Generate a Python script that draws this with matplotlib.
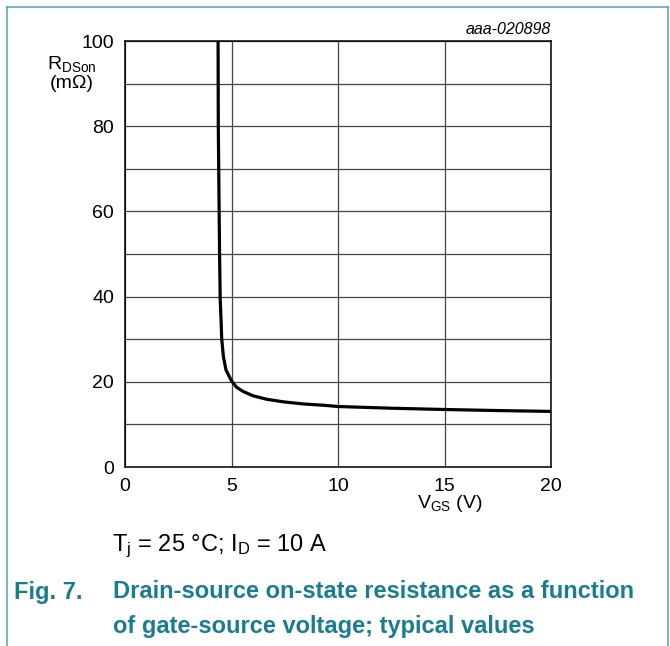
import matplotlib
matplotlib.use("Agg")
import matplotlib.pyplot as plt
from matplotlib.lines import Line2D

plt.rcParams['font.family'] = ['Liberation Sans', 'DejaVu Sans']
plt.rcParams['mathtext.fontset'] = 'custom'
plt.rcParams['mathtext.rm'] = 'Liberation Sans'
plt.rcParams['mathtext.it'] = 'Liberation Sans:italic'

# ---- data ----
vgs = [4.37, 4.38, 4.40, 4.42, 4.44, 4.47, 4.51, 4.54, 4.62, 4.74, 4.99, 5.24,
       5.56, 6.02, 6.65, 7.43, 8.37, 9.31, 10.0, 12.5, 15.0, 17.5, 20.0]
rds_on = [100, 80, 70, 60, 50, 39.2, 34.5, 30.1, 25.9, 22.8, 20.3, 18.7,
          17.7, 16.7, 15.9, 15.3, 14.8, 14.5, 14.2, 13.8, 13.5, 13.25, 13.05]
x_ticks = [0, 5, 10, 15, 20]
y_ticks = [0, 20, 40, 60, 80, 100]
y_grid = [10, 30, 50, 70, 90]

TEAL = "#1a7d8f"
FRAME = "#5fa9b9"

fig = plt.figure(figsize=(6.7, 6.46), dpi=100)
ax = fig.add_axes([125 / 670, 1 - 467 / 646, 426 / 670, 426 / 646])

ax.plot(vgs, rds_on, color="black", lw=2.3, solid_joinstyle="round", zorder=3)

ax.set_xlim(0, 20)
ax.set_ylim(0, 100)
ax.set_xticks(x_ticks)
ax.set_yticks(y_ticks)
ax.set_yticks(y_grid, minor=True)
ax.tick_params(which="both", length=0, labelsize=14)
ax.tick_params(axis="x", pad=8)
ax.tick_params(axis="y", pad=8)
ax.grid(which="both", color="#444444", lw=0.9)
for s in ax.spines.values():
    s.set_linewidth(1.1)

# axis labels as in the datasheet
fig.text(72 / 670, 1 - 64 / 646, r"R$_{\mathregular{DSon}}$", ha="center", va="center", fontsize=14)
fig.text(72 / 670, 1 - 84 / 646, "(m\u03a9)", ha="center", va="center", fontsize=14)
fig.text(450 / 670, 1 - 504 / 646, r"V$_{\mathregular{GS}}$ (V)", ha="center", va="center", fontsize=14)
fig.text(551 / 670, 1 - 30 / 646, "aaa-020898", ha="right", va="center", fontsize=11.5, style="italic")

# conditions and caption
fig.text(112 / 670, 1 - 546 / 646, r"T$_{\mathregular{j}}$ = 25 °C; I$_{\mathregular{D}}$ = 10 A",
         ha="left", va="center", fontsize=17)
fig.text(14 / 670, 1 - 592 / 646, "Fig. 7.", ha="left", va="center", fontsize=17,
         fontweight="bold", color=TEAL)
fig.text(113 / 670, 1 - 592 / 646, "Drain-source on-state resistance as a function",
         ha="left", va="center", fontsize=17, fontweight="bold", color=TEAL)
fig.text(113 / 670, 1 - 627 / 646, "of gate-source voltage; typical values",
         ha="left", va="center", fontsize=17, fontweight="bold", color=TEAL)

# teal frame around the figure
fig.add_artist(Line2D([7 / 670, 668 / 670], [1 - 7 / 646, 1 - 7 / 646], color=FRAME, lw=1.2))
fig.add_artist(Line2D([7 / 670, 7 / 670], [0, 1 - 7 / 646], color=FRAME, lw=1.2))
fig.add_artist(Line2D([668 / 670, 668 / 670], [0, 1 - 7 / 646], color=FRAME, lw=1.2))

fig.savefig("out.png", dpi=100)
